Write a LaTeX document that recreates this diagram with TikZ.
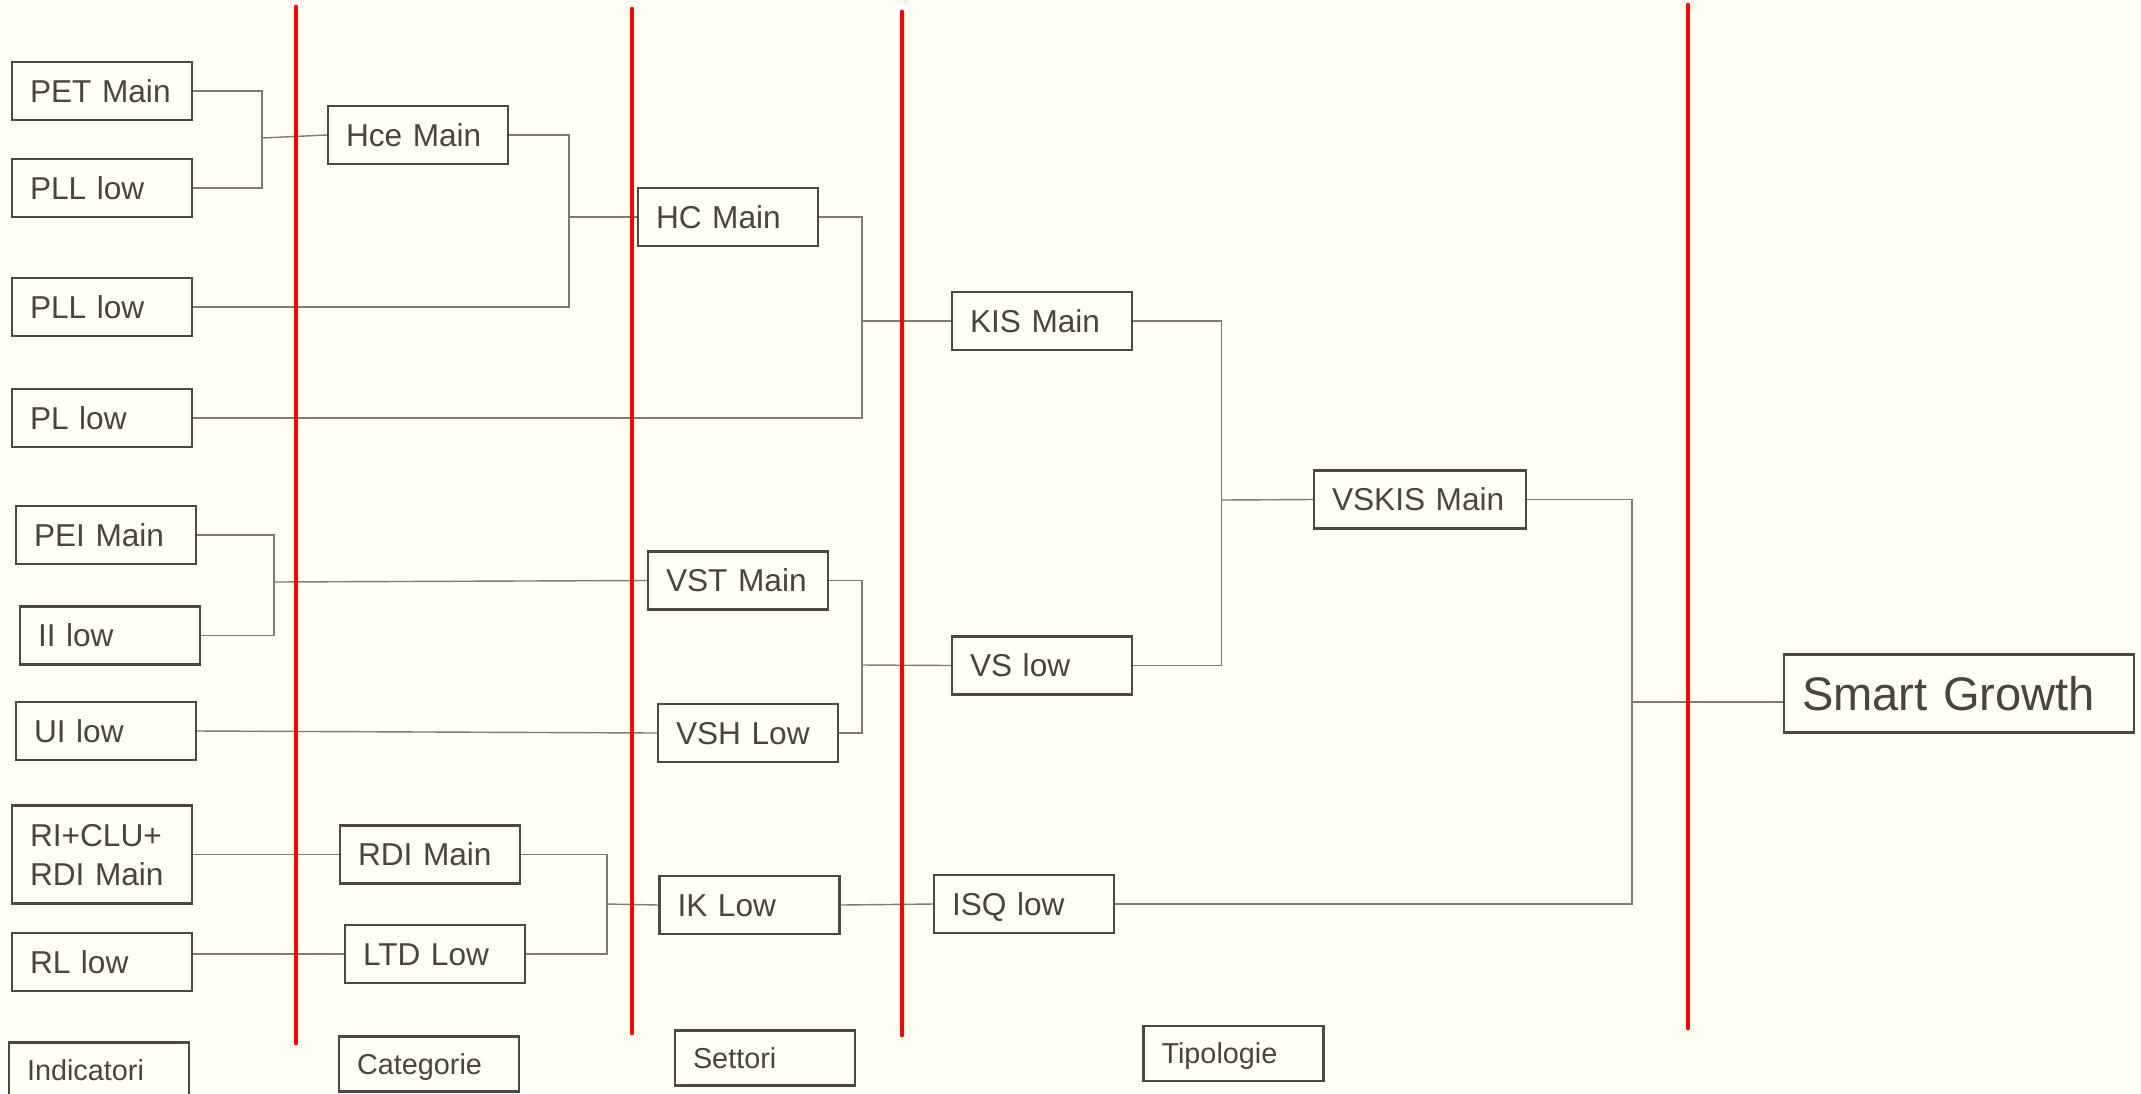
\documentclass[tikz,border=0pt]{standalone}
\usepackage{fontspec}
\setmainfont{Liberation Sans}
\usepackage{tikz}
\usetikzlibrary{positioning, calc}

\definecolor{paper}{RGB}{255,255,243}
\definecolor{frame}{RGB}{77,72,66}
\definecolor{ink}{RGB}{74,68,62}
\definecolor{wire}{RGB}{128,122,114}

\begin{document}
\begin{tikzpicture}[
			x=0.1mm, y=-0.1mm,
			box/.style={rectangle, draw=frame, line width=0.6pt, fill=paper, text=ink, text width=14.4mm, inner xsep=1.8mm, inner ysep=0pt, minimum height=5.8mm, align=left, text height=6.5pt, text depth=0pt, font=\fontsize{9}{11.1}\selectfont},
			stage/.style={box, minimum height=5.5mm, text height=5.9pt, font=\fontsize{8.2}{10}\selectfont},
			link/.style={draw=wire, line width=0.4pt},
			divider/.style={draw=red, line width=1.4pt, line cap=round}
			]
			\useasboundingbox (0,0) rectangle (2141,1093);
			\fill[paper] (0,0) rectangle (2141,1093);
			
			% Indicatori
			\node[box] (pet) at (102,91) {PET Main};
			\node[box] (pllA) at (102,188) {PLL low};
			\node[box] (pllB) at (102,307) {PLL low};
			\node[box] (pl) at (102,418) {PL low};
			\node[box] (pei) at (106,535) {PEI Main};
			\node[box] (ii) at (110,635.5) {II low};
			\node[box] (ui) at (106,731) {UI low};
			\node[box, minimum height=9.8mm, text depth=11.1pt] (ri) at (102,854.5) {RI+CLU+\\RDI Main};
			\node[box] (rl) at (102,962) {RL low};
			
			% Categorie
			\node[box] (hce) at (418,135) {Hce Main};
			\node[box] (rdi) at (430,854.5) {RDI Main};
			\node[box] (ltd) at (435,954) {LTD Low};
			
			% Settori
			\node[box] (hc) at (728,217) {HC Main};
			\node[box] (vst) at (738,580.5) {VST Main};
			\node[box] (vsh) at (748,733) {VSH Low};
			\node[box] (ik) at (749.5,905) {IK Low};
			
			% Tipologie
			\node[box] (kis) at (1042,321) {KIS Main};
			\node[box] (vs) at (1042,665.5) {VS low};
			\node[box] (isq) at (1024,904) {ISQ low};
			
			\node[box, text width=17.6mm] (vskis) at (1420,499.5) {VSKIS Main};
			\node[box, text width=31.4mm, minimum height=7.8mm, text height=9.6pt, font=\fontsize{13.4}{16}\selectfont] (sg) at (1959,693.5) {Smart Growth};
			
			% column titles
			\node[stage] (tInd) at (99,1070) {Indicatori};
			\node[stage] (tCat) at (429,1064) {Categorie};
			\node[stage] (tSet) at (765,1058) {Settori};
			\node[stage] (tTip) at (1233.5,1053.5) {Tipologie};
			
			\coordinate (j1) at (262,138);
			\coordinate (j2) at (569,217);
			\coordinate (j3) at (862,321);
			\coordinate (j4) at (274,582);
			\coordinate (j5) at (862,665);
			\coordinate (j6) at (1221.5,500);
			\coordinate (j7) at (1632,702);
			\coordinate (j8) at (607,904);
			
			\draw[link] (pet.east) -| (j1) |- (pllA.east);
			\draw[link] (j1) -- (hce.west);
			\draw[link] (hce.east) -| (j2) |- (pllB.east);
			\draw[link] (j2) -- (hc.west);
			\draw[link] (hc.east) -| (j3) |- (pl.east);
			\draw[link] (j3) -- (kis.west);
			
			\draw[link] (pei.east) -| (j4) |- (ii.east);
			\draw[link] (j4) -- (vst.west);
			\draw[link] (ui.east) -- (vsh.west);
			\draw[link] (vst.east) -| (j5) |- (vsh.east);
			\draw[link] (j5) -- (vs.west);
			
			\draw[link] (ri.east) -- (rdi.west);
			\draw[link] (rl.east |- ltd.west) -- (ltd.west);
			\draw[link] (rdi.east) -| (j8) |- (ltd.east);
			\draw[link] (j8) -- (ik.west);
			\draw[link] (ik.east) -- (isq.west);
			
			\draw[link] (kis.east) -| (j6) |- (vs.east);
			\draw[link] (j6) -- (vskis.west);
			\draw[link] (vskis.east) -| (j7) |- (isq.east);
			\draw[link] (j7) -- (j7 -| sg.west);
			
			% red separators
			\foreach \x/\a/\b in {296/7/1043, 632/9/1033, 902/12/1035, 1688/5/1028}
				\draw[divider] (\x,\a) -- (\x,\b);
		\end{tikzpicture}
\end{document}
